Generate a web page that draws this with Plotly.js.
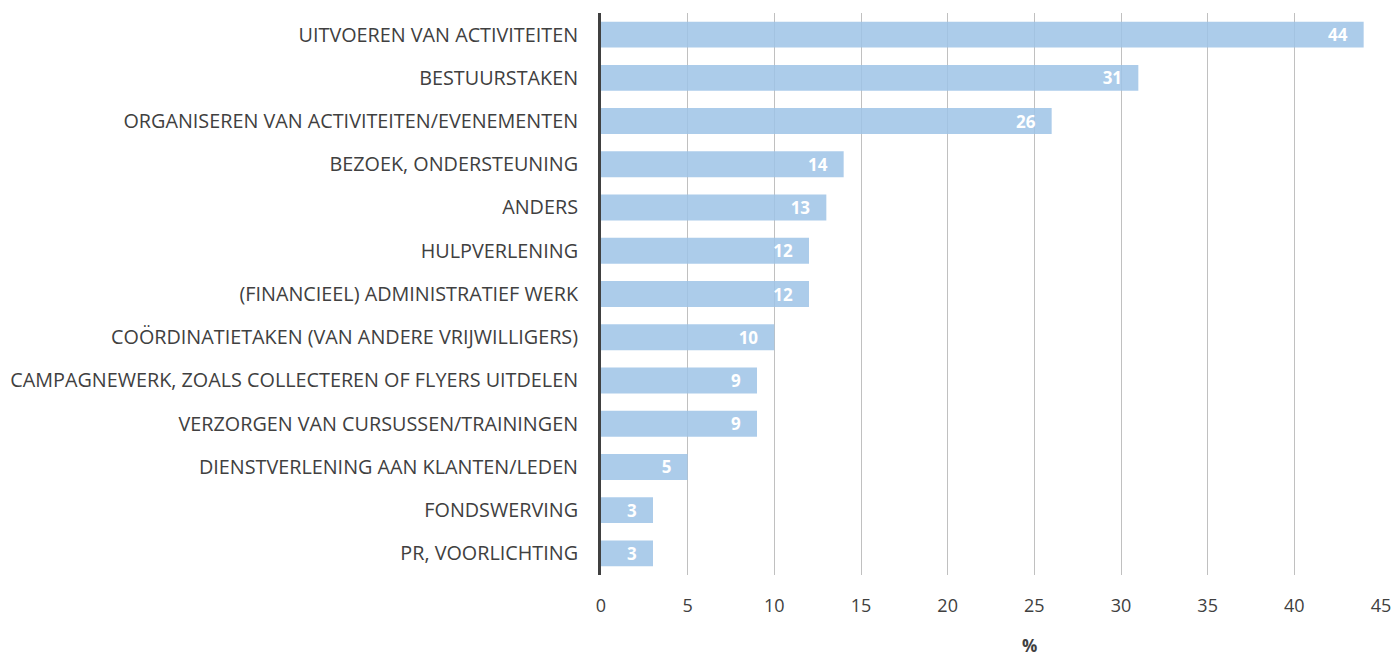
<!DOCTYPE html>
<html><head><meta charset="utf-8">
<script src="https://cdn.plot.ly/plotly-3.0.1.min.js"></script>
<style>html,body{margin:0;padding:0;background:#fff;}#chart{width:1393px;height:656px;}</style>
</head><body><div id="chart"></div>
<script>
const categories = [
  "UITVOEREN VAN ACTIVITEITEN",
  "BESTUURSTAKEN",
  "ORGANISEREN VAN ACTIVITEITEN/EVENEMENTEN",
  "BEZOEK, ONDERSTEUNING",
  "ANDERS",
  "HULPVERLENING",
  "(FINANCIEEL) ADMINISTRATIEF WERK",
  "COÖRDINATIETAKEN (VAN ANDERE VRIJWILLIGERS)",
  "CAMPAGNEWERK, ZOALS COLLECTEREN OF FLYERS UITDELEN",
  "VERZORGEN VAN CURSUSSEN/TRAININGEN",
  "DIENSTVERLENING AAN KLANTEN/LEDEN",
  "FONDSWERVING",
  "PR, VOORLICHTING"
];
const values = [44, 31, 26, 14, 13, 12, 12, 10, 9, 9, 5, 3, 3];
const xTickValues = [0, 5, 10, 15, 20, 25, 30, 35, 40, 45];
const xTitle = '%';

const trace = {
  type: 'bar',
  orientation: 'h',
  y: categories,
  x: values,
  text: values.map(v => String(v) + '\u00a0\u00a0\u00a0'),
  textposition: 'inside',
  insidetextanchor: 'end',
  constraintext: 'none',
  textangle: 0,
  textfont: {family: 'Open Sans', size: 17, color: '#ffffff', weight: 'bold'},
  marker: {color: 'rgba(157,195,230,0.85)'},
  hoverinfo: 'x+y'
};

const layout = {
  width: 1393, height: 656,
  margin: {l: 601, r: 12, t: 13, b: 81},
  paper_bgcolor: '#ffffff', plot_bgcolor: '#ffffff',
  bargap: 0.4,
  showlegend: false,
  font: {family: 'Open Sans', size: 18, color: '#404040'},
  xaxis: {
    range: [0, 45],
    tickvals: xTickValues,
    showgrid: true, gridcolor: '#c0c0c0', gridwidth: 1,
    zeroline: false, showline: false,
    ticks: '',
    ticklabelstandoff: 18,
    tickfont: {family: 'Open Sans', size: 18, color: '#404040'}
  },
  yaxis: {
    autorange: 'reversed',
    showgrid: false, zeroline: false,
    showline: true, linecolor: '#404040', linewidth: 3,
    ticks: '',
    ticklabelstandoff: 16,
    tickfont: {family: 'Open Sans', size: 19.8, color: '#404040'}
  },
  annotations: [{
    text: xTitle, xref: 'paper', yref: 'paper', x: 0.549, y: -0.125,
    xanchor: 'center', yanchor: 'middle', showarrow: false,
    font: {family: 'Open Sans', size: 17, color: '#404040', weight: 'bold'}
  }]
};

Plotly.newPlot('chart', [trace], layout, {displayModeBar: false, staticPlot: true});
</script></body></html>
